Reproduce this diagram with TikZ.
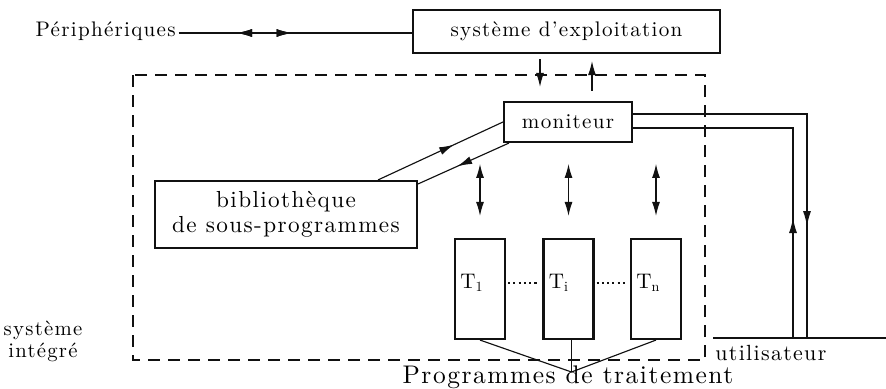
\documentclass[tikz,border=0pt]{standalone}
\usepackage{fontspec}
\setmainfont{lmroman10-regular}[Extension=.otf,LetterSpace=6]
\usepackage{tikz}
\usetikzlibrary{arrows.meta,positioning,calc,decorations.markings}
\definecolor{cencre}{HTML}{111111}
\tikzset{
  boite/.style={draw=cencre,line width=1.2pt,inner sep=0pt,align=center,
                font=\fontsize{12}{14}\selectfont},
  tache/.style={boite,minimum width=10mm,minimum height=20mm},
  trait/.style={draw=cencre,line width=0.65pt},
  fleche/.style={trait,-{Latex[length=2.8mm,width=1.6mm]}},
  dfleche/.style={trait,{Latex[length=2.8mm,width=1.6mm]}-{Latex[length=2.8mm,width=1.6mm]}},
  pointe/.style={postaction=decorate,decoration={markings,
                 mark=at position #1 with {\arrow{Latex[length=3mm,width=1.6mm]}}}},
  pointer/.style={postaction=decorate,decoration={markings,
                 mark=at position #1 with {\arrow{Latex[length=3mm,width=1.6mm,reversed]}}}},
  cadre/.style={draw=cencre,line width=0.6pt,dash pattern=on 2.4mm off 1.6mm},
  pointille/.style={draw=cencre,line width=0.7pt,dash pattern=on 1.2pt off 1.8pt},
  et/.style={font=\fontsize{12}{13}\selectfont,inner sep=0pt,align=center},
}

\begin{document}
\begin{tikzpicture}[x=1cm,y=1cm]
\useasboundingbox (0,0) rectangle (17.72,-7.76);

% ---------------- système d'exploitation et périphériques ----------------
\node[boite,minimum width=61.4mm,minimum height=8.6mm] (sysexp) at (11.33,-0.63)
  {système d'exploitation};
\node[et,anchor=base east] (peri) at (3.52,-0.72) {Périphériques};
\coordinate (pg) at ($(peri.base east)+(0.05,0.06)$);
\draw[trait,pointer=1.47cm,pointe=2.26cm] (pg) -- (pg -| sysexp.west);

% ---------------- système intégré ----------------
\draw[cadre] (2.66,-1.5) rectangle (14.1,-7.2);
\node[et,font=\fontsize{11.8}{12.5}\selectfont] (sysint) at (0.86,-6.82) {système\\intégré};

\node[boite,minimum width=25.6mm,minimum height=8mm] (moni) at (11.36,-2.44) {moniteur};
\node[boite,minimum width=52.4mm,minimum height=13.4mm,font=\fontsize{13.2}{14}\selectfont]
  (bibli) at (5.72,-4.29) {bibliothèque\\de sous-programmes};

\draw[fleche,shorten <=1mm,shorten >=2.8mm]
  ([xshift=-5.3mm]sysexp.south) -- ([xshift=-5.3mm]sysexp.south |- moni.north);
\draw[fleche,shorten <=2mm,shorten >=1.4mm]
  ([xshift=5.1mm]sysexp.south |- moni.north) -- ([xshift=5.1mm]sysexp.south);

\draw[trait,pointe=0.61] ([xshift=18.4mm]bibli.north) -- (moni.west);
\draw[trait,pointe=0.57] ([xshift=1.2mm]moni.south west) -- ([yshift=-0.8mm]bibli.north east);

% ---------------- programmes de traitement ----------------
\node[tache] (t1) at (9.6,-5.78) {};
\node[tache] (ti) at (11.37,-5.78) {};
\node[tache] (tn) at (13.12,-5.78) {};
\node[et,anchor=west] (lt1) at ([xshift=1.2mm,yshift=1.2mm]t1.west) {$\mathrm{T}_\mathrm{1}$};
\node[et,anchor=west] (lti) at ([xshift=1.2mm,yshift=1.2mm]ti.west) {$\mathrm{T}_\mathrm{i}$};
\node[et,anchor=west] (ltn) at ([xshift=1.2mm,yshift=1.2mm]tn.west) {$\mathrm{T}_\mathrm{n}$};
\draw[pointille] ([xshift=0.4mm]t1.east |- lt1) -- ([xshift=-0.6mm]ti.west |- lt1);
\draw[pointille] ([xshift=0.4mm]ti.east |- lti) -- ([xshift=-0.6mm]tn.west |- lti);

\foreach \t in {t1,ti,tn}
  \draw[dfleche] ([yshift=4.4mm]\t.north) -- ([yshift=14.8mm]\t.north);

\coordinate (conv) at (11.43,-7.44);
\draw[trait] (t1.south) -- (conv);
\draw[trait] (conv |- ti.south) -- (conv);
\draw[trait] (tn.south) -- (conv);
\node[et,anchor=base,font=\fontsize{14.5}{15}\selectfont] (prog) at (11.36,-7.66)
  {Programmes de traitement};

% ---------------- utilisateur ----------------
\coordinate (solg) at (14.26,-6.76);
\coordinate (sold) at (17.72,-6.76);
\coordinate (uext) at (16.14,-6.76);
\coordinate (uint) at (15.86,-6.76);
\draw[trait] (solg) -- (sold);
\draw[trait,pointe=5.72cm] ([yshift=1.6mm]moni.east) -| (uext);
\draw[trait,pointe=2.4cm] (uint) |- ([yshift=-1.2mm]moni.east);
\node[et,anchor=north west,font=\fontsize{12.5}{13}\selectfont] (util) at (14.3,-6.9) {utilisateur};

\end{tikzpicture}
\end{document}
